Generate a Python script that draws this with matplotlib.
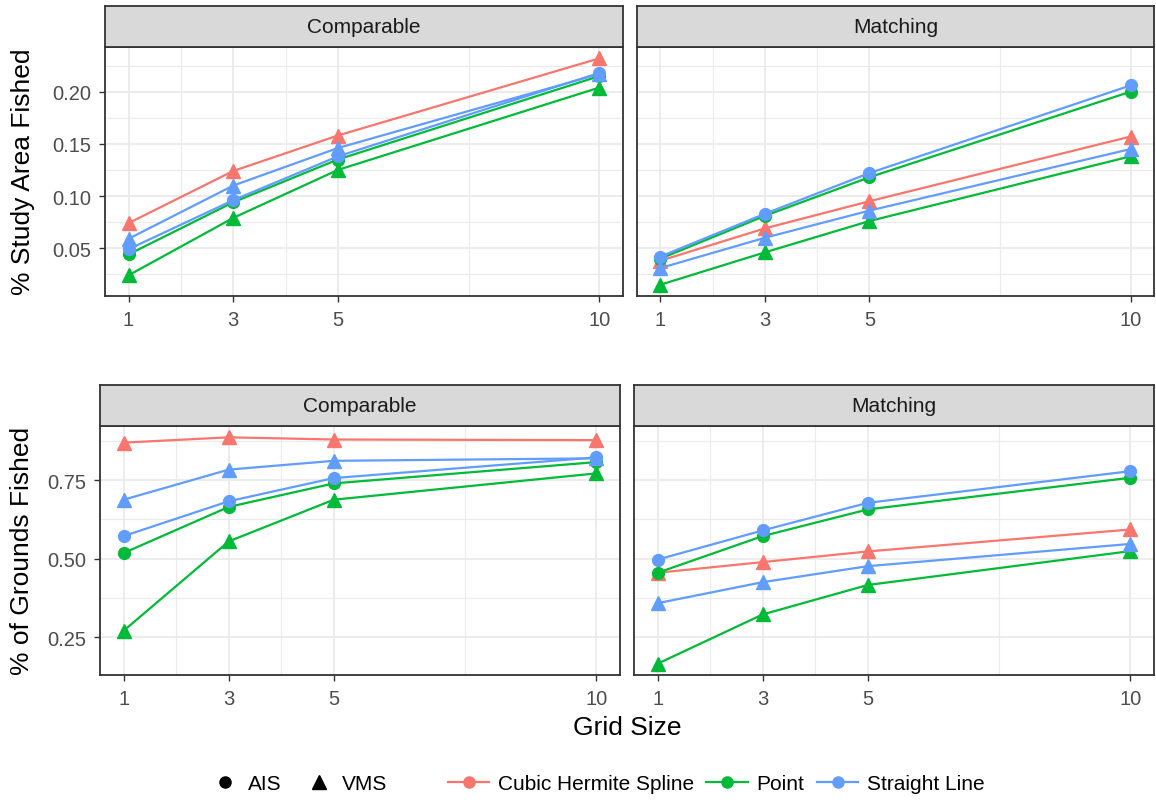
import matplotlib.pyplot as plt
from matplotlib.lines import Line2D

plt.rcParams['font.family'] = ['Liberation Sans', 'DejaVu Sans']

grid_sizes = [1, 3, 5, 10]
methods = ["Cubic Hermite Spline", "Point", "Straight Line"]
colors = {"Cubic Hermite Spline": "#F8766D", "Point": "#00BA38", "Straight Line": "#619CFF"}

# % study area fished
area_comparable = {
    ("Cubic Hermite Spline", "VMS"): [0.074, 0.124, 0.158, 0.232],
    ("Point", "AIS"): [0.044, 0.094, 0.135, 0.215],
    ("Point", "VMS"): [0.024, 0.079, 0.125, 0.204],
    ("Straight Line", "AIS"): [0.049, 0.096, 0.138, 0.218],
    ("Straight Line", "VMS"): [0.059, 0.110, 0.146, 0.217],
}
area_matching = {
    ("Cubic Hermite Spline", "VMS"): [0.038, 0.069, 0.095, 0.157],
    ("Point", "AIS"): [0.040, 0.081, 0.118, 0.200],
    ("Point", "VMS"): [0.015, 0.046, 0.076, 0.138],
    ("Straight Line", "AIS"): [0.042, 0.083, 0.122, 0.206],
    ("Straight Line", "VMS"): [0.031, 0.060, 0.086, 0.145],
}

# % of grounds fished
grounds_comparable = {
    ("Cubic Hermite Spline", "VMS"): [0.870, 0.887, 0.880, 0.878],
    ("Point", "AIS"): [0.518, 0.665, 0.740, 0.808],
    ("Point", "VMS"): [0.270, 0.555, 0.688, 0.772],
    ("Straight Line", "AIS"): [0.572, 0.683, 0.757, 0.823],
    ("Straight Line", "VMS"): [0.688, 0.784, 0.812, 0.820],
}
grounds_matching = {
    ("Cubic Hermite Spline", "VMS"): [0.455, 0.489, 0.523, 0.593],
    ("Point", "AIS"): [0.455, 0.572, 0.657, 0.758],
    ("Point", "VMS"): [0.165, 0.322, 0.416, 0.524],
    ("Straight Line", "AIS"): [0.497, 0.590, 0.678, 0.779],
    ("Straight Line", "VMS"): [0.358, 0.425, 0.476, 0.547],
}

W, H = 1156, 803
fig = plt.figure(figsize=(W / 100, H / 100), dpi=100)


def px_axes(x0, y0, x1, y1):
    return fig.add_axes([x0 / W, 1 - y1 / H, (x1 - x0) / W, (y1 - y0) / H])


def row_limits(*sets):
    vals = [v for s in sets for series in s.values() for v in series]
    lo, hi = min(vals), max(vals)
    pad = (hi - lo) * 0.05
    return lo - pad, hi + pad


def draw_panel(rect, strip_top, title, data, ylim, yticks, yminor, show_y):
    x0, y0, x1, y1 = rect
    ax = px_axes(x0, y0, x1, y1)
    strip = px_axes(x0, strip_top, x1, y0)
    strip.set_facecolor("#D9D9D9")
    strip.set_xticks([])
    strip.set_yticks([])
    for sp in strip.spines.values():
        sp.set_color("#333333")
        sp.set_linewidth(1.3)
    strip.text(0.5, 0.5, title, ha="center", va="center", fontsize=15, color="#1A1A1A",
               transform=strip.transAxes)

    for (method, source), vals in data.items():
        mk = "o" if source == "AIS" else "^"
        ms = 8.5 if source == "AIS" else 10
        ax.plot(grid_sizes, vals, color=colors[method], lw=1.6, marker=mk, ms=ms, zorder=3)

    ax.set_xlim(0.55, 10.45)
    ax.set_ylim(*ylim)
    ax.set_xticks(grid_sizes)
    ax.set_xticks([2, 4, 7.5], minor=True)
    ax.set_yticks(yticks)
    ax.set_yticks(yminor, minor=True)
    ax.set_yticklabels(["%.2f" % t for t in yticks])
    ax.grid(True, which="major", color="#EBEBEB", lw=1.3, zorder=0)
    ax.grid(True, which="minor", color="#EBEBEB", lw=0.8, zorder=0)
    ax.set_axisbelow(True)
    ax.tick_params(which="minor", length=0)
    ax.tick_params(which="major", length=4.5, width=1, color="#333333",
                   labelsize=14.5, labelcolor="#4D4D4D", pad=5.5)
    if not show_y:
        ax.tick_params(axis="y", which="both", left=False, labelleft=False)
    for sp in ax.spines.values():
        sp.set_color("#333333")
        sp.set_linewidth(1.3)
    return ax


top_lim = row_limits(area_comparable, area_matching)
bot_lim = row_limits(grounds_comparable, grounds_matching)
top_ticks = [0.05, 0.10, 0.15, 0.20]
top_minor = [0.025, 0.075, 0.125, 0.175, 0.225]
bot_ticks = [0.25, 0.50, 0.75]
bot_minor = [0.375, 0.625, 0.875]

draw_panel((105, 48, 623, 297), 7, "Comparable", area_comparable, top_lim, top_ticks, top_minor, True)
draw_panel((637, 48, 1154, 297), 7, "Matching", area_matching, top_lim, top_ticks, top_minor, False)
draw_panel((100, 427, 620, 676), 386, "Comparable", grounds_comparable, bot_lim, bot_ticks, bot_minor, True)
draw_panel((634, 427, 1154, 676), 386, "Matching", grounds_matching, bot_lim, bot_ticks, bot_minor, False)

fig.text(23 / W, 1 - 172 / H, "% Study Area Fished", rotation=90, ha="center", va="center", fontsize=19)
fig.text(22 / W, 1 - 551 / H, "% of Grounds Fished", rotation=90, ha="center", va="center", fontsize=19)
fig.text(627 / W, 1 - 728 / H, "Grid Size", ha="center", va="center", fontsize=19)

shape_handles = [
    Line2D([], [], color="black", marker="o", ms=8, ls="none"),
    Line2D([], [], color="black", marker="^", ms=9.5, ls="none"),
]
fig.legend(shape_handles, ["AIS", "VMS"], loc="center", bbox_to_anchor=(300 / W, 1 - 785 / H),
           ncol=2, frameon=False, fontsize=15, handlelength=1.2, handletextpad=0.5,
           columnspacing=1.2)

method_handles = [Line2D([], [], color=colors[m], marker="o", ms=8, lw=1.6) for m in methods]
fig.legend(method_handles, methods, loc="center", bbox_to_anchor=(716 / W, 1 - 785 / H),
           ncol=3, frameon=False, fontsize=15, handlelength=2.0, handletextpad=0.4,
           columnspacing=0.6)

fig.savefig("out.png", dpi=100)
